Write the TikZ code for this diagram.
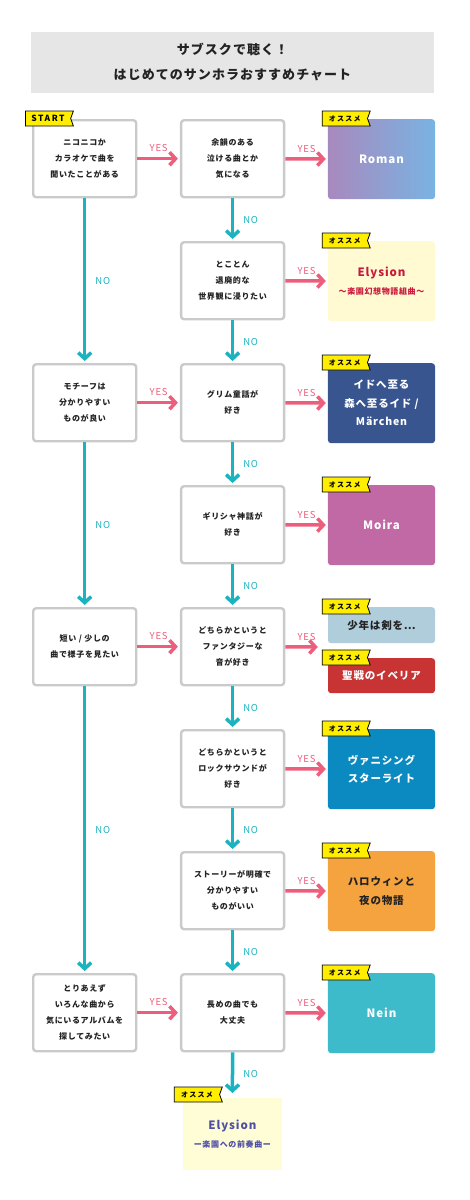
\documentclass[tikz,border=0pt]{standalone}
\usepackage{fontspec}
\setmainfont{Noto Sans CJK JP}
\usepackage{tikz}
\usetikzlibrary{graphs, arrows.meta, shapes.symbols}
\newfontfamily\chartfont{Noto Sans CJK JP}[LetterSpace=8]
\newfontfamily\tagfont{Noto Sans CJK JP}[LetterSpace=18]
\definecolor{chartpink}{HTML}{EC5E7B}
\definecolor{chartteal}{HTML}{1BB3BF}
\definecolor{boxgray}{HTML}{CACACA}
\definecolor{titlegray}{HTML}{E6E6E6}
\definecolor{tagyellow}{HTML}{FFEE00}
\definecolor{inkblack}{HTML}{222222}
\definecolor{romanleft}{HTML}{A889BE}
\definecolor{romanright}{HTML}{79B3E2}
\definecolor{elysionbg}{HTML}{FFFAD2}
\definecolor{elysionred}{HTML}{C8193C}
\definecolor{marchenblue}{HTML}{38558F}
\definecolor{moirapink}{HTML}{C169A5}
\definecolor{shonenblue}{HTML}{B0CDDC}
\definecolor{iberiared}{HTML}{C83333}
\definecolor{vanishingblue}{HTML}{0A8AC0}
\definecolor{halloweenorange}{HTML}{F5A33E}
\definecolor{neinteal}{HTML}{3DBBCB}
\definecolor{preludebg}{HTML}{FFFDD6}
\definecolor{preludeink}{HTML}{4F4FA5}

\begin{document}
\begin{tikzpicture}[
                x=1pt, y=-1pt,
                question/.style={
                    rectangle, rounded corners=3pt,
                    draw=boxgray, line width=2.4pt, fill=white,
                    minimum width=103pt, minimum height=77pt,
                    align=center, text=inkblack,
                    font=\chartfont\fontsize{8}{16}\selectfont\bfseries,
                },
                result/.style={
                    rectangle, rounded corners=3pt,
                    minimum width=107pt, minimum height=80pt,
                    align=center, text=white,
                    font=\chartfont\fontsize{10.5}{18.5}\selectfont\bfseries,
                },
                ribbon/.style={
                    signal, signal from=east, signal to=nowhere,
                    signal pointer angle=140,
                    draw=black, line width=0.8pt, fill=tagyellow,
                    minimum width=48pt, minimum height=15pt, inner sep=0pt,
                    text=black, font=\tagfont\fontsize{7}{7}\selectfont\bfseries,
                },
                yeslabel/.style={
                    auto, text=chartpink, inner sep=5pt,
                    font=\chartfont\fontsize{9.5}{9.5}\selectfont,
                },
                nolabel/.style={
                    auto, text=chartteal, inner xsep=9pt,
                    font=\chartfont\fontsize{9.5}{9.5}\selectfont,
                },
                yesarrow/.style={
                    draw=chartpink, line width=3.5pt,
                    edge node={node[yeslabel]{YES}},
                },
                noarrow/.style={
                    draw=chartteal, line width=3.5pt,
                    edge node={node[nolabel]{NO}},
                },
                >={Straight Barb[length=6pt, width=13pt]},
                shorten >=2pt,
            ]
            \useasboundingbox (0,0) rectangle (470,1200);

            \node [fill=titlegray, minimum width=403pt, minimum height=61pt,
                align=center, text=inkblack,
                font=\chartfont\fontsize{13}{25}\selectfont\bfseries]
                (title) at (232.5,62.5) {サブスクで聴く！\\はじめてのサンホラおすすめチャート};

            \matrix (chart) [column sep=42.5pt, row sep=41.8pt, inner sep=0pt,
                anchor=north west] at (31.8,118.8) {
                \node [question] (niconico) {ニコニコか\\カラオケで曲を\\聞いたことがある} ;
                    & \node [question] (yoin) {余韻のある\\泣ける曲とか\\気になる} ;
                    & \node [result, left color=romanleft, right color=romanright] (roman) {\fontsize{11.5}{18}\selectfont Roman} ; \\
                & \node [question] (tokoton) {とことん\\退廃的な\\世界観に浸りたい} ;
                    & \node [result, fill=elysionbg, text=elysionred] (elysion)
                        {{\fontsize{11.5}{18}\selectfont Elysion}\\{\fontsize{8}{12}\selectfont 〜楽園幻想物語組曲〜}} ; \\
                \node [question] (motif) {モチーフは\\分かりやすい\\ものが良い} ;
                    & \node [question] (grimm) {グリム童話が\\好き} ;
                    & \node [result, fill=marchenblue] (marchen) {イドへ至る\\森へ至るイド /\\Märchen} ; \\
                & \node [question] (greek) {ギリシャ神話が\\好き} ;
                    & \node [result, fill=moirapink] (moira) {\fontsize{11.5}{18}\selectfont Moira} ; \\
                \node [question] (brief) {短い / 少しの\\曲で様子を見たい} ;
                    & \node [question] (fantasy) {どちらかというと\\ファンタジーな\\音が好き} ;
                    & \node [minimum width=107pt, minimum height=80pt] (twin) {} ; \\
                & \node [question] (rock) {どちらかというと\\ロックサウンドが\\好き} ;
                    & \node [result, fill=vanishingblue] (vanishing) {ヴァニシング\\スターライト} ; \\
                & \node [question] (story) {ストーリーが明確で\\分かりやすい\\ものがいい} ;
                    & \node [result, fill=halloweenorange, text=inkblack] (halloween) {ハロウィンと\\夜の物語} ; \\
                \node [question] (album) {とりあえず\\いろんな曲から\\気にいるアルバムを\\探してみたい} ;
                    & \node [question] (lengthy) {長めの曲でも\\大丈夫} ;
                    & \node [result, fill=neinteal] (nein) {\fontsize{11.5}{18}\selectfont Nein} ; \\
                & \node [result, rounded corners=0pt, fill=preludebg, draw=white, line width=3pt,
                        minimum width=102pt, minimum height=75pt, text=preludeink] (prelude)
                        {{\fontsize{11.5}{18}\selectfont Elysion}\\{\fontsize{8}{12}\selectfont ー楽園への前奏曲ー}} ; & \\
            } ;

            \node [result, anchor=north, minimum height=36pt, fill=shonenblue, text=inkblack]
                (shonen) at (twin.north) {少年は剣を…} ;
            \node [result, anchor=north, minimum height=35pt, fill=iberiared]
                (iberia) at ([yshift=-51pt]twin.north) {聖戦のイベリア} ;

            \graph [ use existing nodes, ] {
                niconico ->[yesarrow] yoin ->[yesarrow] roman ;
                yoin ->[noarrow] tokoton ->[yesarrow] elysion ;
                tokoton ->[noarrow] grimm ->[yesarrow] marchen ;
                niconico ->[noarrow] motif ->[yesarrow] grimm ;
                grimm ->[noarrow] greek ->[yesarrow] moira ;
                greek ->[noarrow] fantasy ->[yesarrow, shorten >=10pt] twin ;
                motif ->[noarrow] brief ->[yesarrow] fantasy ;
                fantasy ->[noarrow] rock ->[yesarrow] vanishing ;
                rock ->[noarrow] story ->[yesarrow] halloween ;
                story ->[noarrow] lengthy ->[yesarrow] nein ;
                brief ->[noarrow] album ->[yesarrow] lengthy ;
                lengthy ->[noarrow] prelude ;
            } ;

            \node [ribbon, anchor=west, font=\tagfont\fontsize{8.5}{8.5}\selectfont\bfseries]
                (start) at ([xshift=-7pt, yshift=0.5pt]niconico.north west) {START} ;
            \foreach \pick in {roman, elysion, marchen, moira, shonen, iberia, vanishing, halloween, nein, prelude}
                \node [ribbon, anchor=west] (tag-\pick) at ([xshift=-6pt, yshift=0.5pt]\pick.north west) {オススメ} ;
        \end{tikzpicture}
\end{document}
